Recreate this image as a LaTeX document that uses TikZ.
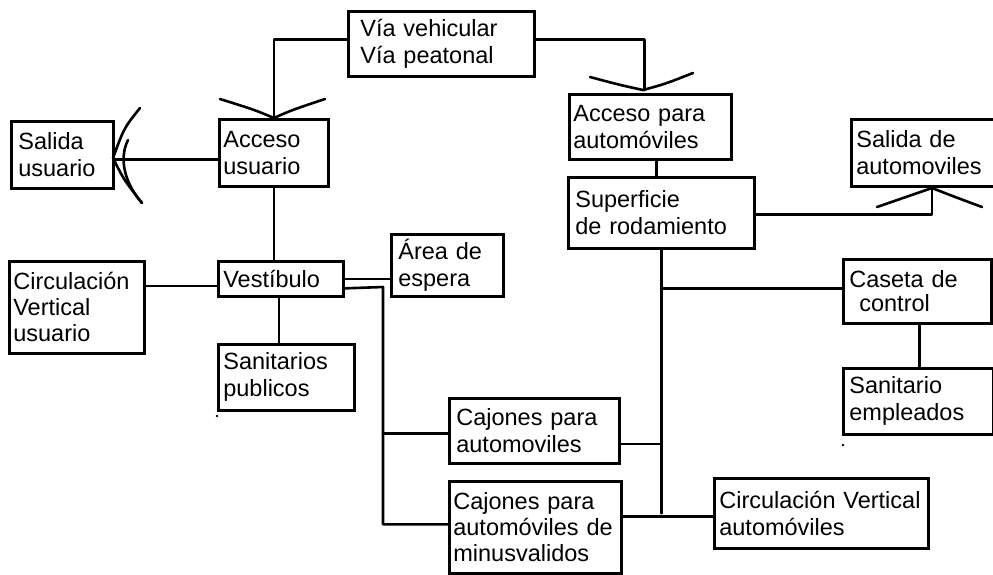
\documentclass[tikz,border=0pt]{standalone}
\usepackage{fontspec}
\setmainfont{Liberation Sans}
\usetikzlibrary{calc}
\tikzset{
  bx/.style={draw, line width=2.7pt, anchor=north west, align=left, inner ysep=0pt, inner xsep=5pt,
             font=\fontsize{23.5}{27}\selectfont},
  ln/.style={line width=2.6pt, line cap=round, line join=round},
}
\begin{document}
\begin{tikzpicture}[x=1pt,y=-1pt]
\useasboundingbox (0,0) rectangle (993,574);
% nodes
\node[bx, inner xsep=12pt, text width=162pt, minimum height=65pt] (via) at (347,10) {Vía vehicular\\Vía peatonal};
\node[bx, inner xsep=4pt, text width=101pt, minimum height=67pt] (accu) at (218,118) {Acceso\\usuario};
\node[bx, inner xsep=7pt, text width=88pt, minimum height=67pt] (salu) at (10,120) {Salida\\usuario};
\node[bx, inner xsep=4pt, text width=154pt, minimum height=65pt] (acca) at (568,93) {Acceso para\\automóviles};
\node[bx, inner xsep=7pt, text width=172pt, minimum height=71pt] (sup) at (567,176) {Superficie\\de rodamiento};
\node[bx, inner xsep=5pt, text width=140pt, minimum height=67pt] (sala) at (850,118) {Salida de\\automoviles};
\node[bx, inner xsep=5pt, text width=115pt, minimum height=35pt] (vest) at (217,260) {Vestíbulo};
\node[bx, inner xsep=4pt, text width=127pt, minimum height=92pt, font=\fontsize{23.5}{26}\selectfont] (circu) at (8,260) {Circulación\\Vertical\\usuario};
\node[bx, inner xsep=7pt, text width=98pt, minimum height=62pt] (area) at (390,233) {Área de\\espera};
\node[bx, inner xsep=5pt, text width=126pt, minimum height=66pt] (sanp) at (217,343) {Sanitarios\\publicos};
\node[bx, inner xsep=6pt, text width=136pt, minimum height=64pt, font=\fontsize{23.5}{24}\selectfont] (cas) at (842,258) {Caseta de\\\hspace*{10pt}control};
\node[bx, inner xsep=6pt, text width=138pt, minimum height=66pt] (sane) at (842,367) {Sanitario\\empleados};
\node[bx, inner xsep=7pt, text width=156pt, minimum height=65pt] (caj) at (448,397) {Cajones para\\automoviles};
\node[bx, inner xsep=4pt, text width=164pt, minimum height=92pt, font=\fontsize{23.5}{26}\selectfont] (cajm) at (448,480) {Cajones para\\automóviles de\\minusvalidos};
\node[bx, inner xsep=5pt, text width=204pt, minimum height=70pt] (circa) at (713,477) {Circulación Vertical\\automóviles};
% helper coordinates (connector bends / arrow apexes)
\coordinate (jl) at (383,287);
\coordinate (sa2) at (932,188);
% connectors
\draw[ln] ([yshift=4.5pt]via.west) -| (accu.north);
\draw[ln] ([yshift=4.5pt]via.east) -| ([xshift=-6pt,yshift=3pt]acca.north);
\draw[ln] ([yshift=-6.5pt]accu.west) -- ([yshift=-6.5pt]accu.west -| salu.east);
\draw[ln] (accu.south) -- (accu.south |- vest.north);
\draw[ln] ([yshift=-7pt]vest.west) -- ([yshift=-7pt]vest.west -| circu.east);
\draw[ln] (vest.east) -- (vest.east -| area.west);
\draw[ln] ([yshift=-9.5pt]vest.east) -- (jl) |- ([yshift=3pt]cajm.west);
\draw[ln] ([yshift=-2.5pt]caj.west -| jl) -- ([yshift=-2.5pt]caj.west);
\draw[ln] ([xshift=-2pt]vest.south) -- ([xshift=-2pt]vest.south |- sanp.north);
\draw[ln] ([xshift=6pt]acca.south) -- ([xshift=6pt]acca.south |- sup.north);
\draw[ln] ([yshift=-1.5pt]sup.east) -| (sa2);
\draw[ln] (sup.south) -- (sup.south |- circa.west);
\draw[ln] ([yshift=3pt]cas.west) -- ([yshift=3pt]cas.west -| sup.south);
\draw[ln] ([yshift=-13pt]caj.east) -- ([yshift=-13pt]caj.east -| sup.south);
\draw[ln] ([yshift=-3pt]circa.west) -- ([yshift=-3pt]circa.west -| cajm.east);
\draw[ln] ([xshift=2pt]cas.south) -- ([xshift=2pt]cas.south |- sane.north);
% arrowheads (hand-drawn forks)
\draw[ln] (220,99) .. controls (255,110) .. (accu.north) .. controls (292,110) .. (325,99);
\draw[ln] (590,77) .. controls (620,85) .. (643,90) .. controls (665,84) .. (693,73);
\draw[ln] (140,108) .. controls (124,128) .. (113,158) .. controls (124,180) .. (142,203);
\draw[ln] (128,140) .. controls (118,160) and (126,185) .. (142,203);
\draw[ln] (877,207) .. controls (905,197) .. (sa2) .. controls (955,197) .. (982,207);
% stray marks
\fill (217,416) circle (1.3pt);
\fill (843,445) circle (1.3pt);
\end{tikzpicture}
\end{document}
